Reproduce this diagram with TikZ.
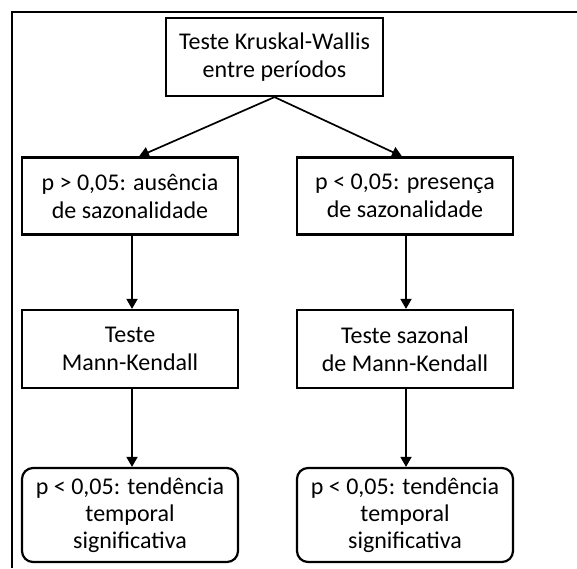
\documentclass[tikz,border=0pt]{standalone}
\usepackage{fontspec}
\setmainfont{Carlito}
\usetikzlibrary{arrows.meta}

\begin{document}
\begin{tikzpicture}[x=1pt,y=1pt,
    box/.style={draw,line width=2.2pt,minimum width=216pt,minimum height=78pt,
        align=center,inner sep=0pt,font=\fontsize{24}{28}\selectfont},
    endbox/.style={box,rounded corners=11pt,minimum height=94pt,
        font=\fontsize{24}{27}\selectfont},
    arr/.style={line width=1.7pt,-{Triangle[length=10pt,width=11pt]}}]
    \useasboundingbox (0,0) rectangle (577,-568);

    % Outer frame (cut at right and bottom)
    \draw[line width=2pt] (11.5,-568) |- (577,-11.5);

    % Kruskal-Wallis test
    \node[box,minimum width=217pt] (kw) at (274.5,-57) {Teste Kruskal-Wallis\\entre períodos};

    % Seasonality
    \node[box,minimum height=77pt] (ausencia) at (130,-196) {p > 0,05: ausência\\de sazonalidade};
    \node[box,minimum height=77pt] (presenca) at (405,-196) {p < 0,05: presença\\de sazonalidade};

    % Trend tests
    \node[box] (mk) at (130,-349) {Teste\\Mann-Kendall};
    \node[box] (smk) at (405,-349) {Teste sazonal\\de Mann-Kendall};

    % Results
    \node[endbox] (res1) at (130,-515) {p < 0,05: tendência\\temporal\\significativa};
    \node[endbox] (res2) at (405,-515) {p < 0,05: tendência\\temporal\\significativa};

    % Arrows
    \draw[arr] (kw.south) -- ([xshift=9pt]ausencia.north);
    \draw[arr] (kw.south) -- ([xshift=-3pt]presenca.north);
    \draw[arr] ([xshift=2pt]ausencia.south) -- ([xshift=2pt]mk.north);
    \draw[arr] ([xshift=1pt]presenca.south) -- ([xshift=1pt]smk.north);
    \draw[arr] ([xshift=2pt]mk.south) -- ([xshift=2pt]res1.north);
    \draw[arr] ([xshift=1pt]smk.south) -- ([xshift=1pt]res2.north);

\end{tikzpicture}
\end{document}
